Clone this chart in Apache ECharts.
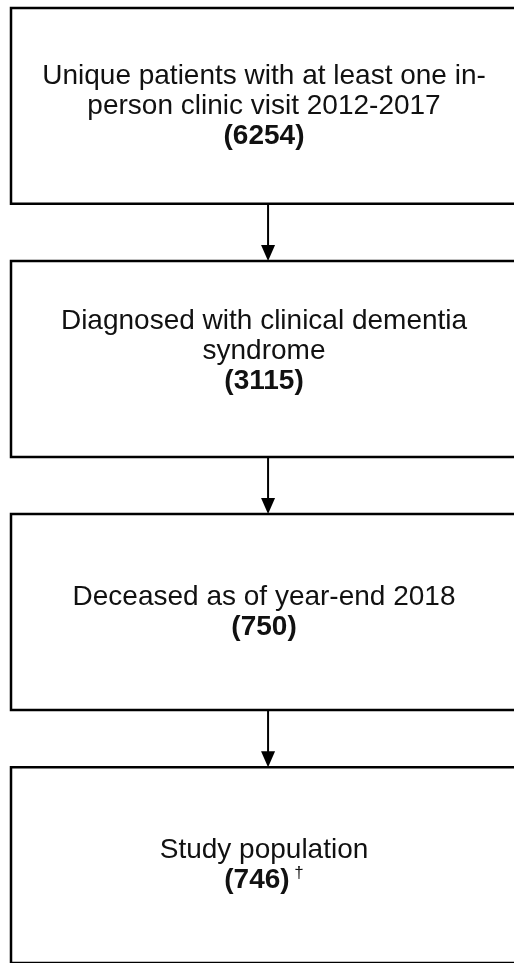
<!DOCTYPE html>
<html>
<head>
<meta charset="utf-8">
<script src="https://cdn.jsdelivr.net/npm/echarts@6/dist/echarts.min.js"></script>
<style>
  html, body { margin: 0; padding: 0; background: #fff; }
  #chart { width: 514px; height: 963px; }
</style>
</head>
<body>
<div id="chart"></div>
<script>
// flow steps, top to bottom
const stepLabels = [
  'Unique patients with at least one in-\nperson clinic visit 2012-2017',
  'Diagnosed with clinical dementia\nsyndrome',
  'Deceased as of year-end 2018',
  'Study population'
]
const stepCounts = [6254, 3115, 750, 746]
const stepNotes = ['', '', '', '†']

const FONT = '"Liberation Sans", Arial, Helvetica, sans-serif'
const BOX_FRAC = 0.774   // share of each step taken by the box, rest is the arrow gap
const ARROW_X = 0.508    // arrow position across the box width
const TEXT_SHIFT = [0, -8, 0, 0]  // small vertical nudges of the box text (px)

const chart = echarts.init(document.getElementById('chart'), null, { renderer: 'canvas' })

function labelText(i) {
  const lines = stepLabels[i].split('\n').map(l => '{r|' + l + '}')
  let last = '{b|(' + stepCounts[i] + ')}'
  if (stepNotes[i]) last += '{s| ' + stepNotes[i] + '}'
  return lines.concat(last).join('\n')
}

function renderStep(params, api) {
  const i = api.value(0)
  const tl = api.coord([0, i])
  const br = api.coord([1, i + BOX_FRAC])
  const children = [{
    type: 'rect',
    shape: { x: tl[0], y: tl[1], width: br[0] - tl[0], height: br[1] - tl[1] },
    style: { fill: '#fff', stroke: '#000', lineWidth: 2.5 }
  }, {
    type: 'text',
    x: (tl[0] + br[0]) / 2,
    y: (tl[1] + br[1]) / 2 + TEXT_SHIFT[i],
    style: {
      text: labelText(i),
      align: 'center',
      verticalAlign: 'middle',
      fill: '#111',
      rich: {
        r: { fontFamily: FONT, fontSize: 28, lineHeight: 30, fill: '#111' },
        b: { fontFamily: FONT, fontSize: 28, fontWeight: 'bold', lineHeight: 30, fill: '#111' },
        s: { fontFamily: FONT, fontSize: 17, lineHeight: 30, verticalAlign: 'top', fill: '#111', padding: [0, 0, 8, 0] }
      }
    }
  }]
  if (i < stepLabels.length - 1) {
    const a = api.coord([ARROW_X, i + BOX_FRAC])
    const b = api.coord([ARROW_X, i + 1])
    const headH = 16, headW = 7
    children.push({
      type: 'line',
      shape: { x1: a[0], y1: a[1], x2: b[0], y2: b[1] - headH + 1 },
      style: { stroke: '#000', lineWidth: 2 }
    }, {
      type: 'polygon',
      shape: { points: [[b[0] - headW, b[1] - headH], [b[0] + headW, b[1] - headH], [b[0], b[1]]] },
      style: { fill: '#000' }
    })
  }
  return { type: 'group', children }
}

chart.setOption({
  backgroundColor: '#fff',
  animation: false,
  grid: { left: 11, right: 0, top: 8, bottom: 0, outerBoundsMode: 'none' },
  xAxis: { type: 'value', min: 0, max: 0.994, show: false },
  yAxis: { type: 'value', min: 0, max: 3 + BOX_FRAC, inverse: true, show: false },
  series: [{
    type: 'custom',
    renderItem: renderStep,
    clip: false,
    data: stepLabels.map((_, i) => [i])
  }]
})
</script>
</body>
</html>
